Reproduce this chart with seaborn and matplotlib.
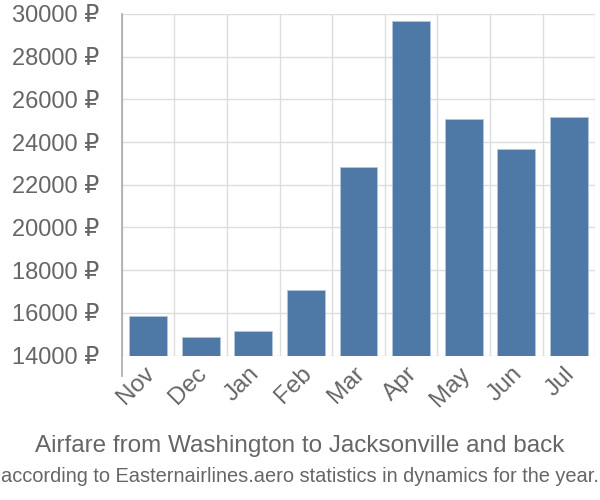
import numpy as np
import pandas as pd
import seaborn as sns
import matplotlib.pyplot as plt
import matplotlib.transforms as mtransforms
from matplotlib.ticker import FixedLocator

# chart data
months = ['Nov', 'Dec', 'Jan', 'Feb', 'Mar', 'Apr', 'May', 'Jun', 'Jul']
prices = [15870, 14860, 15140, 17090, 22850, 29690, 25070, 23680, 25170]
y_ticks = [14000, 16000, 18000, 20000, 22000, 24000, 26000, 28000, 30000]

title = 'Airfare from Washington to Jacksonville and back'
subtitle = 'according to Easternairlines.aero statistics in dynamics for the year.'

sns.set_style('white')
plt.rcParams['font.family'] = ['Liberation Sans', 'DejaVu Sans']

GRID = '#dddddd'
TEXT = '#666666'
BAR = '#4e79a7'

df = pd.DataFrame({'month': months, 'price': prices})

fig = plt.figure(figsize=(6, 5), dpi=100)
ax = fig.add_axes([0.203, 0.289, 0.789, 0.683])

sns.barplot(df, x='month', y='price', color=BAR, width=0.72,
            edgecolor='#b5c7dc', linewidth=0.5, saturation=1, ax=ax, zorder=3)

ax.set_ylim(14000, 30000)
ax.set_xlim(-0.5, len(months) - 0.5)
ax.set_yticks(y_ticks)
ax.set_yticklabels([f'{v} ₽' for v in y_ticks])
ax.xaxis.set_minor_locator(FixedLocator(np.arange(-0.5, len(months), 1.0)))

ax.grid(axis='y', color=GRID, linewidth=1, zorder=0)
ax.grid(axis='x', which='minor', color=GRID, linewidth=1, zorder=0)
ax.set_axisbelow(True)

ax.tick_params(axis='y', length=14, width=1, color=GRID, pad=2, labelsize=17, labelcolor=TEXT)
ax.tick_params(axis='x', which='major', length=0, pad=3, labelsize=17.5, labelcolor=TEXT)
ax.tick_params(axis='x', which='minor', length=14, width=1, color=GRID)
shift = mtransforms.ScaledTranslation(-5 / 100, -3 / 100, fig.dpi_scale_trans)
for lbl in ax.get_xticklabels():
    lbl.set_rotation(45)
    lbl.set_ha('right')
    lbl.set_rotation_mode('anchor')
    lbl.set_transform(lbl.get_transform() + shift)

for side in ['top', 'right', 'bottom']:
    ax.spines[side].set_visible(False)
ax.spines['left'].set_color('#aaaaaa')
ax.spines['left'].set_linewidth(1.2)
ax.spines['left'].set_bounds(13060, 30000)

ax.set_xlabel('')
ax.set_ylabel('')

fig.text(0.5, 0.108, title, ha='center', va='center', fontsize=17.5, color=TEXT)
fig.text(0.5, 0.046, subtitle, ha='center', va='center', fontsize=14.4, color=TEXT,
         family=['Liberation Sans Narrow', 'Liberation Sans', 'DejaVu Sans'])

fig.savefig('out.png', dpi=100)
